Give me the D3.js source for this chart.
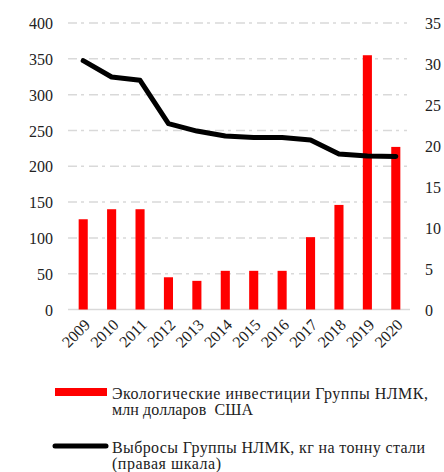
<!DOCTYPE html>
<html><head><meta charset="utf-8">
<script src="https://cdn.jsdelivr.net/npm/d3@7"></script>
<style>body{margin:0;background:#fff}svg{display:block}</style>
</head><body>
<svg id="c" width="444" height="472"></svg>
<script>
const years = ["2009","2010","2011","2012","2013","2014","2015","2016","2017","2018","2019","2020"];
const investments = [126,140,140,45,40,54,54,54,101,146,355,227];
const emissions = [30.4,28.4,28.0,22.7,21.8,21.2,21.0,21.0,20.7,19.0,18.75,18.7];
const leftTicks = [0,50,100,150,200,250,300,350,400];
const rightTicks = [0,5,10,15,20,25,30,35];
const legendLabels = [["Экологические инвестиции Группы НЛМК,","млн долларов  США"],["Выбросы Группы НЛМК, кг на тонну стали","(правая шкала)"]];

const font = "'Liberation Serif', serif";
const svg = d3.select("#c");
const x = d3.scaleBand().domain(years).range([69,410]).paddingInner(0.68).paddingOuter(0.34);
const yL = d3.scaleLinear().domain([0,400]).range([309.5,23]);
const yR = d3.scaleLinear().domain([0,35]).range([309.5,23]);

// gridlines
svg.append("g").selectAll("line").data(leftTicks.filter(d=>d>0)).join("line")
  .attr("x1",68).attr("x2",407).attr("y1",d=>yL(d)).attr("y2",d=>yL(d))
  .attr("stroke","#d9d9d9").attr("stroke-width",1.5).attr("stroke-dasharray","9,4,3,5");
// baseline
svg.append("line").attr("x1",68).attr("x2",410).attr("y1",yL(0)).attr("y2",yL(0))
  .attr("stroke","#d9d9d9").attr("stroke-width",1.5);

// left axis
const gL = svg.append("g").attr("transform","translate(53,0)")
  .call(d3.axisLeft(yL).tickValues(leftTicks).tickSize(0).tickPadding(0));
gL.select(".domain").remove();
gL.selectAll("text").attr("font-family",font).attr("font-size",16).attr("fill","#222").attr("dy","0.35em");

// right axis
const gR = svg.append("g").attr("transform","translate(425,0)")
  .call(d3.axisRight(yR).tickValues(rightTicks).tickSize(0).tickPadding(0));
gR.select(".domain").remove();
gR.selectAll("text").attr("font-family",font).attr("font-size",16).attr("fill","#222").attr("dy","0.35em");

// bars
svg.append("g").selectAll("rect").data(years).join("rect")
  .attr("x",d=>x(d)).attr("width",x.bandwidth())
  .attr("y",(d,i)=>yL(investments[i])).attr("height",(d,i)=>yL(0)-yL(investments[i]))
  .attr("fill","#ff0000");

// line
const line = d3.line().x((d,i)=>x(years[i])+x.bandwidth()/2).y(d=>yR(d));
svg.append("path").datum(emissions).attr("d",line).attr("fill","none")
  .attr("stroke","#000").attr("stroke-width",5).attr("stroke-linecap","round").attr("stroke-linejoin","round");

// x axis labels
const gX = svg.append("g").attr("transform","translate(0,322)")
  .call(d3.axisBottom(x).tickSize(0).tickPadding(0));
gX.select(".domain").remove();
gX.selectAll("text").attr("font-family",font).attr("font-size",16).attr("fill","#222")
  .attr("text-anchor","end").attr("dy","0.35em").attr("dx","0")
  .attr("transform","translate(4,0) rotate(-45)");

// legend
const lg = svg.append("g");
lg.append("rect").attr("x",55).attr("y",388).attr("width",52).attr("height",8).attr("fill","#ff0000");
lg.append("line").attr("x1",55).attr("x2",106).attr("y1",446).attr("y2",446)
  .attr("stroke","#000").attr("stroke-width",5).attr("stroke-linecap","round");
const lt = [[399,415],[453,469]];
const lw = [[316,141],[313,109]];
legendLabels.forEach((ls,i)=>{
  ls.forEach((s,j)=>{
    lg.append("text").attr("x",112).attr("y",lt[i][j]).text(s)
      .attr("xml:space","preserve").style("white-space","pre")
      .attr("font-family",font).attr("font-size",16).attr("fill","#222")
      .attr("textLength",lw[i][j]).attr("lengthAdjust","spacing");
  });
});
</script>
</body></html>
